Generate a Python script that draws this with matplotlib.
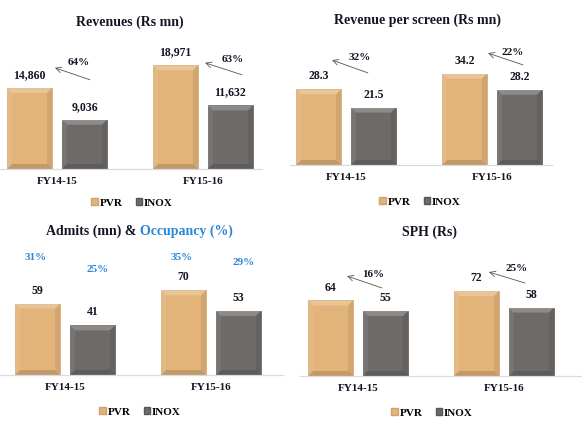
import matplotlib.pyplot as plt
import matplotlib.transforms as mtransforms
from matplotlib.patches import Polygon, Patch
import numpy as np

# data
years = ['FY14-15', 'FY15-16']
revenue_pvr = [14860, 18971]
revenue_inox = [9036, 11632]
rev_growth = ['64%', '63%']
rps_pvr = [28.3, 34.2]
rps_inox = [21.5, 28.2]
rps_growth = ['32%', '22%']
admits_pvr = [59, 70]
admits_inox = [41, 53]
occ_pvr = ['31%', '35%']
occ_inox = ['25%', '29%']
sph_pvr = [64, 72]
sph_inox = [55, 58]
sph_growth = ['16%', '25%']

PVR_C = '#E2B47A'
INOX_C = '#6E6A67'
TXT = '#151525'
BLUE = '#2A86D6'
W, H = 582, 426

plt.rcParams['font.family'] = ['Liberation Serif', 'DejaVu Serif']
fig = plt.figure(figsize=(W / 100, H / 100), dpi=100)
fig.patch.set_facecolor('white')


def make_ax(x0, x1, base, top, center, ytop):
    ax = fig.add_axes([x0 / W, 1 - base / H, (x1 - x0) / W, (base - top) / H])
    ax.set_xlim(-(center - x0) / 146, (x1 - center) / 146)
    ax.set_ylim(0, ytop)
    for s in ['top', 'left', 'right']:
        ax.spines[s].set_visible(False)
    ax.spines['bottom'].set_color('#d8dbe0')
    ax.spines['bottom'].set_linewidth(0.9)
    ax.set_yticks([])
    ax.set_xticks(range(len(years)))
    ax.set_xticklabels(years, fontsize=8, fontweight='bold', color=TXT)
    ax.tick_params(axis='x', length=0, pad=6)
    ax.patch.set_alpha(0)
    return ax


def bevel(ax, bars):
    # soft bevelled look, like the office-style 3D bars
    b = 5
    for p in bars:
        (x0, y0) = ax.transData.transform((p.get_x(), p.get_y()))
        (x1, y1) = ax.transData.transform((p.get_x() + p.get_width(), p.get_y() + p.get_height()))
        parts = [
            ([(x0, y1), (x1, y1), (x1 - b, y1 - b), (x0 + b, y1 - b)], 'white', 0.22),
            ([(x0, y0), (x0, y1), (x0 + b, y1 - b), (x0 + b, y0 + b)], 'white', 0.07),
            ([(x1, y0), (x1, y1), (x1 - b, y1 - b), (x1 - b, y0 + b)], 'black', 0.08),
            ([(x0, y0), (x1, y0), (x1 - b, y0 + b), (x0 + b, y0 + b)], 'black', 0.14),
        ]
        for pts, c, a in parts:
            ax.add_patch(Polygon(pts, closed=True, facecolor=c, alpha=a, edgecolor='none',
                                 transform=mtransforms.IdentityTransform(), clip_on=False))


def draw_bars(ax, pvr, inox, fmt):
    x = np.arange(len(years))
    w, off = 0.308, 0.188
    b1 = ax.bar(x - off, pvr, w, color=PVR_C, edgecolor='#cfa36a', linewidth=0.5)
    b2 = ax.bar(x + off, inox, w, color=INOX_C, edgecolor='#5a5654', linewidth=0.5)
    bevel(ax, b1)
    bevel(ax, b2)
    for bars, vals in ((b1, pvr), (b2, inox)):
        for p, v in zip(bars, vals):
            ax.annotate(fmt(v), (p.get_x() + p.get_width() / 2, v), xytext=(0, 5),
                        textcoords='offset points', ha='center', va='bottom',
                        fontsize=8.5, fontweight='bold', color=TXT)


def growth_arrow(ax, label, tail, head, txt):
    ax.annotate('', xy=head, xytext=tail,
                arrowprops=dict(arrowstyle='->', color='#555555', lw=0.6,
                                shrinkA=0, shrinkB=0))
    ax.text(txt[0], txt[1], label, ha='center', va='center', fontsize=8,
            fontweight='bold', color=TXT)


def legend(cx, cy):
    handles = [Patch(facecolor=PVR_C, edgecolor='#cfa36a'),
               Patch(facecolor=INOX_C, edgecolor='#5a5654')]
    fig.legend(handles, ['PVR', 'INOX'], loc='center', bbox_to_anchor=(cx / W, 1 - cy / H),
               ncol=2, frameon=False, handlelength=0.6, handleheight=0.6,
               handletextpad=0.15, columnspacing=1.2,
               prop={'weight': 'bold', 'size': 8})


def title(cx, cy, s):
    fig.text(cx / W, 1 - cy / H, s, ha='center', va='center', fontsize=10,
             fontweight='bold', color=TXT)


# Revenues
ax1 = make_ax(0, 262, 169, 40, 57, 129 / 0.00546)
draw_bars(ax1, revenue_pvr, revenue_inox, lambda v: f'{v:,}')
growth_arrow(ax1, rev_growth[0], (0.226, 16330), (-0.014, 18530), (0.15, 19450))
growth_arrow(ax1, rev_growth[1], (1.267, 17250), (1.014, 19450), (1.2, 20000))
title(130, 22, 'Revenues (Rs mn)')
legend(132, 203)

# Revenue per screen
ax2 = make_ax(290, 552, 165, 40, 346, 125 / 2.67)
draw_bars(ax2, rps_pvr, rps_inox, lambda v: f'{v:.1f}')
growth_arrow(ax2, rps_growth[0], (0.15, 34.5), (-0.096, 39.3), (0.096, 40.4))
growth_arrow(ax2, rps_growth[1], (1.212, 37.5), (0.973, 41.9), (1.144, 42.3))
title(418, 20, 'Revenue per screen (Rs mn)')
legend(420, 202)

# Admits & occupancy
ax3 = make_ax(0, 283, 375, 245, 65, 130 / 1.21)
draw_bars(ax3, admits_pvr, admits_inox, lambda v: f'{v}')
occ_y_pvr = [96.7, 96.7]
occ_y_inox = [87.6, 92.6]
for i in range(len(years)):
    ax3.text(i - 0.2, occ_y_pvr[i], occ_pvr[i], ha='center', va='center',
             fontsize=8, fontweight='bold', color=BLUE)
    ax3.text(i + 0.22, occ_y_inox[i], occ_inox[i], ha='center', va='center',
             fontsize=8, fontweight='bold', color=BLUE)
t1 = fig.text(46 / W, 1 - 231 / H, 'Admits (mn) & ', ha='left', va='center',
              fontsize=10, fontweight='bold', color=TXT)
ax3.annotate('Occupancy (%)', xy=(1, 0), xycoords=t1, ha='left', va='bottom',
             fontsize=10, fontweight='bold', color=BLUE, annotation_clip=False)
legend(140, 412)

# SPH
ax4 = make_ax(300, 583, 376, 245, 358, 131 / 1.18)
draw_bars(ax4, sph_pvr, sph_inox, lambda v: f'{v}')
growth_arrow(ax4, sph_growth[0], (0.164, 74.6), (-0.075, 84.7), (0.103, 86.4))
growth_arrow(ax4, sph_growth[1], (1.144, 78.8), (0.897, 88.1), (1.089, 91.5))
title(430, 232, 'SPH (Rs)')
legend(432, 413)

fig.savefig('out.png', dpi=100)
